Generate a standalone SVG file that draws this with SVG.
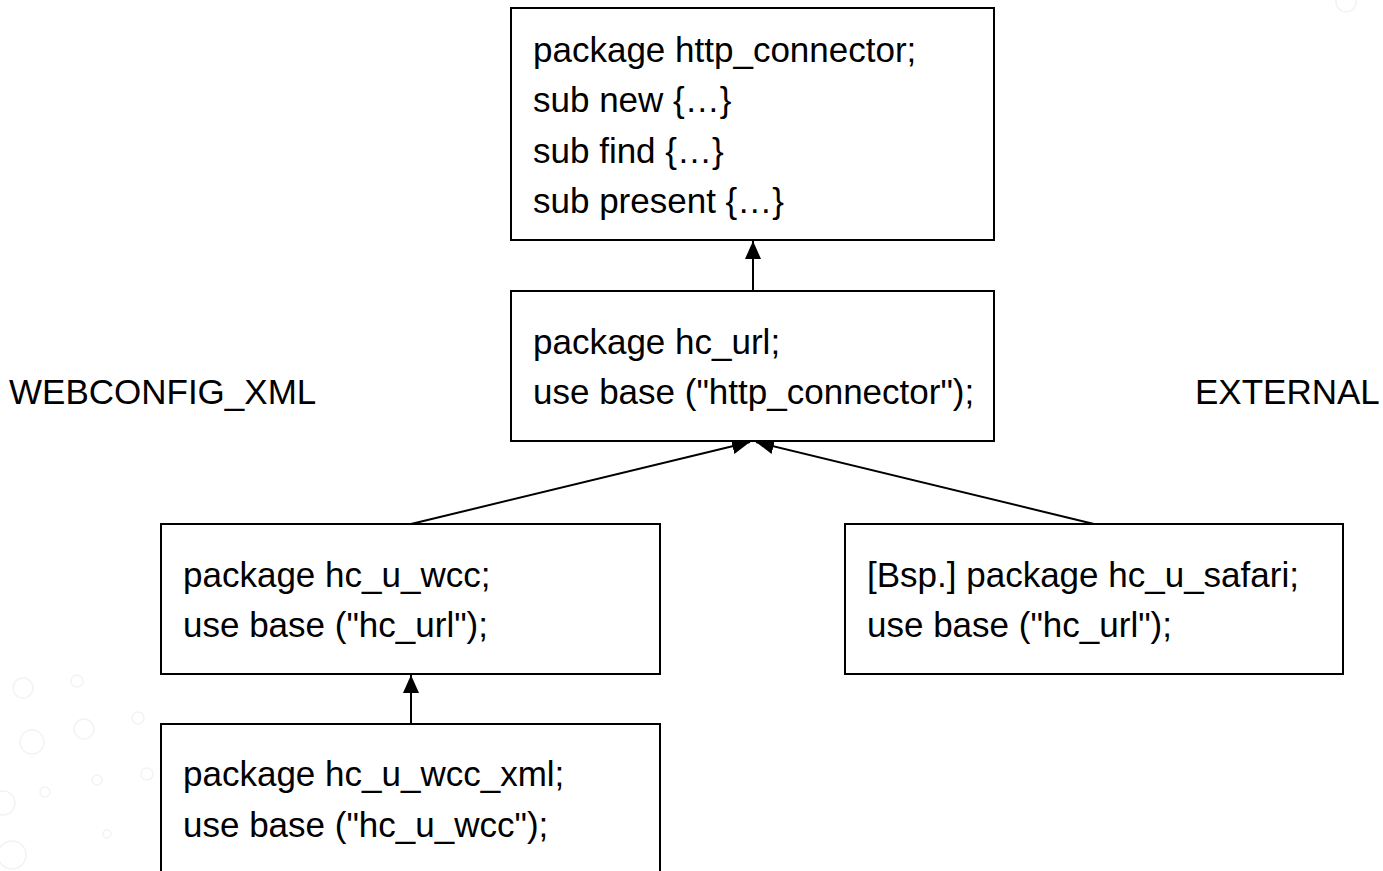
<svg xmlns="http://www.w3.org/2000/svg" width="1383" height="871" viewBox="0 0 1383 871">
<style>
.box{fill:#fff;stroke:#000;stroke-width:2}
.t{font-family:"Liberation Sans",Arial,sans-serif;font-size:35px;fill:#000}
.edge{stroke:#000;stroke-width:2;fill:none;marker-end:url(#arr)}
.deco{fill:none;stroke:#f1f3f4;stroke-width:1.5}
</style>
<defs>
<marker id="arr" markerUnits="userSpaceOnUse" markerWidth="19" markerHeight="18" refX="18" refY="9" orient="auto">
<path d="M0,1 L18,9 L0,17 z" fill="#000"/>
</marker>
</defs>
<rect width="1383" height="871" fill="#fff"/>
<g id="decoration">
<circle class="deco" cx="23" cy="688" r="10"/>
<circle class="deco" cx="77" cy="681" r="6"/>
<circle class="deco" cx="32" cy="742" r="12"/>
<circle class="deco" cx="84" cy="729" r="10"/>
<circle class="deco" cx="138" cy="718" r="6"/>
<circle class="deco" cx="45" cy="792" r="5"/>
<circle class="deco" cx="97" cy="780" r="5"/>
<circle class="deco" cx="147" cy="774" r="6"/>
<circle class="deco" cx="3" cy="803" r="12"/>
<circle class="deco" cx="12" cy="855" r="14"/>
<circle class="deco" cx="107" cy="834" r="4"/>
<circle class="deco" cx="1346" cy="2" r="10"/>
</g>
<g id="connectors">
<line class="edge" x1="753" y1="291" x2="753" y2="241"/>
<line class="edge" x1="411" y1="524" x2="750" y2="442"/>
<line class="edge" x1="1094" y1="524" x2="756" y2="442"/>
<line class="edge" x1="411" y1="724" x2="411" y2="675"/>
</g>
<g id="node-http_connector">
<rect class="box" x="511" y="8" width="483" height="232"/>
<text class="t" x="533" y="62">package http_connector;</text>
<text class="t" x="533" y="112">sub new {…}</text>
<text class="t" x="533" y="163">sub find {…}</text>
<text class="t" x="533" y="213">sub present {…}</text>
</g>
<g id="node-hc_url">
<rect class="box" x="511" y="291" width="483" height="150"/>
<text class="t" x="533" y="354">package hc_url;</text>
<text class="t" x="533" y="404">use base ("http_connector");</text>
</g>
<g id="node-hc_u_wcc">
<rect class="box" x="161" y="524" width="499" height="150"/>
<text class="t" x="183" y="587">package hc_u_wcc;</text>
<text class="t" x="183" y="637">use base ("hc_url");</text>
</g>
<g id="node-hc_u_wcc_xml">
<rect class="box" x="161" y="724" width="499" height="160"/>
<text class="t" x="183" y="786">package hc_u_wcc_xml;</text>
<text class="t" x="183" y="837">use base ("hc_u_wcc");</text>
</g>
<g id="node-hc_u_safari">
<rect class="box" x="845" y="524" width="498" height="150"/>
<text class="t" x="867" y="587">[Bsp.] package hc_u_safari;</text>
<text class="t" x="867" y="637">use base ("hc_url");</text>
</g>
<g id="label-webconfig">
<text class="t" x="9" y="404">WEBCONFIG_XML</text>
</g>
<g id="label-external">
<text class="t" x="1195" y="404">EXTERNAL</text>
</g>
</svg>
